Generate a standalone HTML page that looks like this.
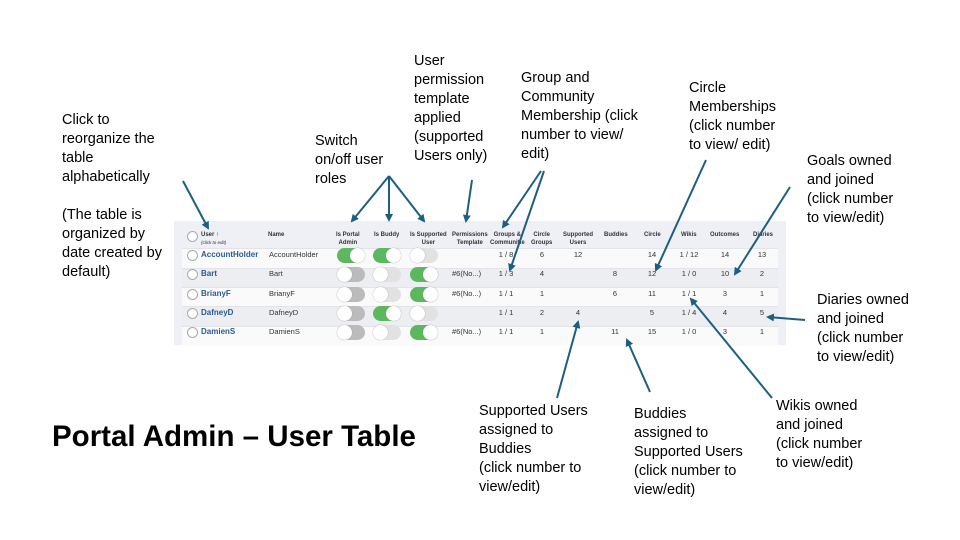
<!DOCTYPE html>
<html><head><meta charset="utf-8"><style>
body{margin:0;width:960px;height:540px;background:#fff;position:relative;overflow:hidden;font-family:"Liberation Sans",sans-serif;}
.l{position:absolute;font-size:14.5px;line-height:19px;color:#000;}
#tbl{position:absolute;left:174px;top:221px;width:612px;height:124px;background:#eef0f5;}
.row{position:absolute;left:8px;width:596px;height:19px;border-top:1px solid #e2e4ea;background:#fafafb;}
.c{position:absolute;font-size:7.5px;color:#333;white-space:nowrap;}
.h{position:absolute;font-size:6px;font-weight:bold;color:#333;text-align:center;line-height:8px;white-space:nowrap;}
.u{color:#2a5b8f;font-weight:bold;font-size:8px;}
.chk{position:absolute;left:13px;width:9px;height:9px;border:1px solid #aaa;border-radius:50%;background:#fff;}
.t{position:absolute;width:28px;height:15px;border-radius:8px;}
.t::after{content:"";position:absolute;top:0;width:15px;height:15px;border-radius:50%;background:#fff;box-shadow:0 0 1px #888;}
.on{background:#5cb85c}.on::after{right:0}
.off{background:#bbb}.off::after{left:0}
.lt{background:#e2e2e2}.lt::after{left:0}
</style></head><body>

<div class="l" style="left:62px;top:111px">Click to<br>reorganize the<br>table<br>alphabetically<br><br>(The table is<br>organized by<br>date created by<br>default)</div>
<div class="l" style="left:315px;top:132px">Switch<br>on/off user<br>roles</div>
<div class="l" style="left:414px;top:52px">User<br>permission<br>template<br>applied<br>(supported<br>Users only)</div>
<div class="l" style="left:521px;top:69px">Group and<br>Community<br>Membership (click<br>number to view/<br>edit)</div>
<div class="l" style="left:689px;top:79px">Circle<br>Memberships<br>(click number<br>to view/ edit)</div>
<div class="l" style="left:807px;top:152px">Goals owned<br>and joined<br>(click number<br>to view/edit)</div>
<div class="l" style="left:817px;top:291px">Diaries owned<br>and joined<br>(click number<br>to view/edit)</div>
<div class="l" style="left:776px;top:397px">Wikis owned<br>and joined<br>(click number<br>to view/edit)</div>
<div class="l" style="left:479px;top:402px">Supported Users<br>assigned to<br>Buddies<br>(click number to<br>view/edit)</div>
<div class="l" style="left:634px;top:405px">Buddies<br>assigned to<br>Supported Users<br>(click number to<br>view/edit)</div>
<div style="position:absolute;left:52px;top:420px;font-size:29.5px;line-height:34px;font-weight:bold;">Portal Admin – User Table</div>

<div id="tbl">
<div class="chk" style="top:10px"></div>
<div class="h" style="left:27px;top:10px;text-align:left">User ↑<br><span style="font-weight:normal;font-style:italic;font-size:4.5px">(click to edit)</span></div>
<div class="h" style="left:94px;top:10px">Name</div>
<div class="h" style="left:162px;top:10px">Is Portal<br>Admin</div>
<div class="h" style="left:200px;top:10px">Is Buddy</div>
<div class="h" style="left:236px;top:10px">Is Supported<br>User</div>
<div class="h" style="left:278px;top:10px">Permissions<br>Template</div>
<div class="h" style="left:316px;top:10px">Groups &amp;<br>Communitie</div>
<div class="h" style="left:357px;top:10px">Circle<br>Groups</div>
<div class="h" style="left:389px;top:10px">Supported<br>Users</div>
<div class="h" style="left:430px;top:10px">Buddies</div>
<div class="h" style="left:470px;top:10px">Circle</div>
<div class="h" style="left:507px;top:10px">Wikis</div>
<div class="h" style="left:536px;top:10px">Outcomes</div>
<div class="h" style="left:579px;top:10px">Diaries</div>

<div class="row" style="top:27px"></div>
<div class="row" style="top:47px;background:#eceef2"></div>
<div class="row" style="top:66px"></div>
<div class="row" style="top:85px;background:#eceef2"></div>
<div class="row" style="top:105px"></div>
</div>

<div id="rows"></div>
<script>
var d=[["AccountHolder","on","on","lt","","1 / 8","6","12","","14","1 / 12","14","13"],
["Bart","off","lt","on","#6(No...)","1 / 3","4","","8","12","1 / 0","10","2"],
["BrianyF","off","lt","on","#6(No...)","1 / 1","1","","6","11","1 / 1","3","1"],
["DafneyD","off","on","lt","","1 / 1","2","4","","5","1 / 4","4","5"],
["DamienS","off","lt","on","#6(No...)","1 / 1","1","","11","15","1 / 0","3","1"]];
var ys=[255,274,294,313,332],h="";
var cx=[506,542,578,615,652,689,725,762];
d.forEach(function(r,i){var y=ys[i];
h+='<div class="chk" style="left:187px;top:'+(y-5)+'px"></div>';
h+='<div class="c u" style="left:201px;top:'+(y-5)+'px">'+r[0]+'</div>';
h+='<div class="c" style="left:269px;top:'+(y-5)+'px">'+r[0]+'</div>';
[337,373,410].forEach(function(x,j){h+='<div class="t '+r[1+j]+'" style="left:'+x+'px;top:'+(y-7)+'px"></div>';});
h+='<div class="c" style="left:452px;top:'+(y-5)+'px">'+r[4]+'</div>';
for(var k=0;k<8;k++)h+='<div class="c" style="left:'+(cx[k]-15)+'px;width:30px;text-align:center;top:'+(y-5)+'px">'+r[5+k]+'</div>';});
document.getElementById("rows").innerHTML=h;
</script>

<svg width="960" height="540" style="position:absolute;left:0;top:0">
<defs><marker id="a" markerWidth="8" markerHeight="8" refX="6" refY="4" orient="auto" markerUnits="userSpaceOnUse"><path d="M0,0 L8,4 L0,8 Z" fill="#1d5f80"/></marker></defs>
<g stroke="#1d5f80" stroke-width="2" fill="none" marker-end="url(#a)">
<line x1="183" y1="181" x2="208" y2="228"/>
<line x1="389" y1="176" x2="352" y2="221"/>
<line x1="389" y1="176" x2="389" y2="220"/>
<line x1="389" y1="176" x2="424" y2="221"/>
<line x1="472" y1="180" x2="466" y2="221"/>
<line x1="541" y1="171" x2="503" y2="227"/>
<line x1="544" y1="171" x2="510" y2="270"/>
<line x1="706" y1="160" x2="656" y2="270"/>
<line x1="790" y1="187" x2="735" y2="274"/>
<line x1="805" y1="320" x2="768" y2="317"/>
<line x1="772" y1="398" x2="691" y2="299"/>
<line x1="557" y1="398" x2="578" y2="322"/>
<line x1="650" y1="392" x2="627" y2="340"/>
</g></svg>
</body></html>
